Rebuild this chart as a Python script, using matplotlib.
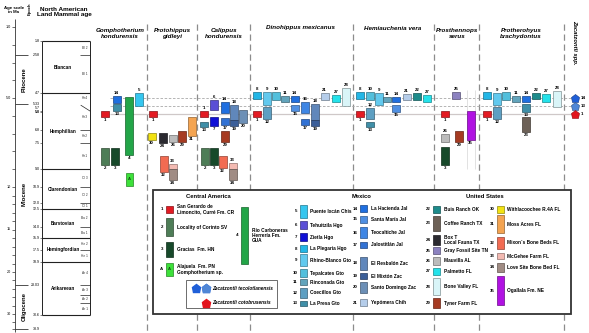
import numpy as np
import matplotlib
matplotlib.use('Agg')
import matplotlib.pyplot as plt
from matplotlib.patches import Rectangle
from matplotlib.colors import to_rgb

plt.rcParams['font.family'] = ['Liberation Sans', 'DejaVu Sans']
plt.rcParams['font.weight'] = 'bold'

# ---------------- scale calibration of the figure (Ma -> vertical position) ----------------
age_knots = [-1.0, 10.0, 20.0, 30.0, 33.9, 40.0]
age_pos = [-8.6, 187.0, 272.0, 314.0, 329.0, 352.0]
nalma_knots = [-1.0, 9.0, 10.9, 12.0, 12.5, 14.0, 15.9, 17.5, 18.9, 23.03, 30.6, 33.9, 40.0]
nalma_pos = [-8.6, 169.4, 187, 203, 209, 227, 238, 250, 262, 285, 315, 329, 352]

# ---------------- time scale data ----------------
epochs = ['Pliocene', 'Miocene', 'Oligocene']
epoch_start = [2.58, 5.33, 23.03]
epoch_end = [5.33, 23.03, 33.9]
epoch_labels = ['2.58', '5.33', '23.03', '33.9']

age_ticks = list(range(1, 21)) + list(range(22, 35, 2))
age_tick_labels = {1: '1.0', 5: '5.0', 10: '10', 15: '15', 20: '20', 30: '30'}

nalma = ['Blancan', 'Hemphillian', 'Clarendonian', 'Barstovian', 'Hemingfordian', 'Arikareean']
nalma_bounds = [1.8, 4.7, 9.0, 12.5, 15.9, 18.9, 30.6]
sub_names = ['Bl 2', 'Bl 1', 'Hh4', 'Hh3', 'Hh2', 'Hh1', 'Cl 3', 'Cl 2', 'Cl 1', 'Ba 2', 'Ba 1',
             'He 2', 'He 1', 'Ar 4', 'Ar 3', 'Ar 2', 'Ar 1']
sub_bounds = [1.8, 2.58, 4.7, 5.33, 6.8, 7.5, 9.0, 10.9, 12.0, 12.5, 14.0, 15.9, 17.5, 18.9,
              23.03, 25.5, 27.6, 30.6]
nalma_tick_labels = ['1.8', '4.7', '5.7', '5.8', '6.8', '7.5', '9.0', '10.9', '12.0', '12.5',
                     '14.0', '15.9', '17.5', '18.9', '30.6']

# ---------------- localities ----------------
loc_color = {
    '1': '#e31b23', '2': '#4e7d57', '3': '#17492a', '4': '#23a548', 'A': '#3de03a',
    '5': '#35c6ef', '6': '#5b4fd6', '7': '#1010d6', '8': '#22b6e6', '9': '#62c9ee',
    '10': '#52bfdc', '11': '#62a4bc', '12': '#5e9fc2', '13': '#3f8fa8', '14': '#1f6fe0',
    '15': '#4f8fe2', '16': '#3f86e4', '17': '#3272d4', '18': '#6087bb', '19': '#3c5f99',
    '20': '#6c8fb6', '21': '#b5cdea', '22': '#1d8b8b', '23': '#6d6157', '24': '#2b2a30',
    '25': '#8c82c0', '26': '#bcbcbc', '27': '#24e2ea', '28': '#d9f5f8', '29': '#a63b22',
    '30': '#f2e212', '31': '#f4a451', '32': '#f26b52', '33': '#f3bab2', '34': '#a08c84',
    '35': '#b012e2'}

# ---------------- taxa: locality, top age, base age (Ma) ----------------
taxa = ['Gomphotherium\nhondurensis', 'Protohippus\ngidleyi', 'Calippus\nhondurensis',
        'Dinohippus mexicanus', 'Hemiauchenia vera', 'Prosthennops\nserus',
        'Protherohyus\nbrachydontus']

gomph_loc = ['1', '2', '3', '14', '13', '4', '5', 'A']
gomph_top = [5.72, 7.80, 7.80, 4.88, 5.33, 4.93, 4.71, 9.20]
gomph_base = [6.06, 8.75, 8.75, 5.27, 5.72, 8.19, 5.44, 9.93]

proto_loc = ['1', '30', '24', '26', '29', '31', '32', '33', '34']
proto_top = [5.72, 6.96, 6.96, 7.07, 6.84, 6.06, 8.25, 8.70, 8.98]
proto_base = [6.06, 7.35, 7.52, 7.46, 7.46, 7.12, 9.15, 8.98, 9.60]

calip_loc = ['1', '13', '6', '7', '14', '17', '29', '18', '19', '20', '2', '3', '32', '33', '34']
calip_top = [5.72, 6.34, 5.10, 6.06, 5.21, 6.11, 6.84, 5.38, 6.22, 5.66, 7.80, 7.80, 8.25, 8.64, 8.98]
calip_base = [6.06, 6.62, 5.66, 6.56, 5.83, 6.51, 7.46, 6.22, 6.56, 6.39, 8.75, 8.75, 8.92, 8.98, 9.60]

dino_loc = ['8', '1', '9', '12', '10', '11', '14', '15', '16', '17', '18', '19', '21', '27', '28']
dino_top = [4.65, 5.72, 4.65, 5.49, 4.65, 4.88, 4.88, 5.38, 5.21, 6.17, 5.33, 6.22, 4.71, 4.82, 4.43]
dino_base = [5.04, 6.06, 5.38, 6.17, 5.10, 5.21, 5.21, 5.72, 5.83, 6.51, 6.22, 6.56, 5.10, 5.21, 5.44]

hemi_loc = ['8', '1', '10', '12', '13', '9', '11', '14', '15', '21', '22', '27']
hemi_top = [4.65, 5.72, 4.65, 5.54, 6.34, 4.71, 4.93, 4.93, 5.38, 4.76, 4.71, 4.82]
hemi_base = [5.04, 6.06, 5.10, 6.17, 6.62, 5.38, 5.21, 5.21, 5.78, 5.10, 5.10, 5.21]

pros_loc = ['25', '1', '26', '29', '3', '35']
pros_top = [4.65, 5.72, 7.01, 6.84, 7.74, 5.72]
pros_base = [5.04, 6.06, 7.46, 7.46, 8.75, 7.35]

proth_loc = ['8', '1', '9', '12', '10', '11', '14', '13', '23', '22', '27', '28']
proth_top = [4.65, 5.72, 4.71, 5.49, 4.65, 4.88, 4.88, 5.33, 6.06, 4.71, 4.76, 4.60]
proth_base = [5.04, 6.06, 5.38, 6.17, 5.10, 5.21, 5.21, 5.78, 6.90, 5.04, 5.21, 5.49]

zac_loc = ['14', '13', '1']
zac_age = [5.02, 5.47, 5.89]
zac_color = ['#1f5fd8', '#4f86d6', '#e3141d']

# ---------------- layout (x positions, label side) ----------------
gomph_x = [101, 101, 111, 113, 113, 125, 135, 126]
gomph_lab = ['b', 'b', 'b', 'a', 'b', 'b', 'a', 'i']
proto_x = [149, 148, 159, 169, 178, 188, 160, 169, 169]
proto_lab = ['b', 'b', 'b', 'b', 'b', 'b', 'b', 'a', 'b']
calip_x = [200, 200, 210, 210, 221, 221, 221, 230, 230, 239, 201, 210, 219, 229, 229]
calip_lab = ['a', 'b', 'a', 'b', 'a', 'b', 'b', 'a', 'b', 'b', 'b', 'b', 'b', 'a', 'b']
dino_x = [253, 253, 263, 263, 272, 281, 291, 291, 301, 301, 311, 311, 321, 332, 342]
dino_lab = ['a', 'b', 'a', 'b', 'a', 'a', 'a', 'b', 'a', 'b', 'a', 'b', 'a', 'a', 'a']
hemi_x = [356, 356, 366, 366, 366, 375, 383, 392, 392, 403, 413, 423]
hemi_lab = ['a', 'b', 'a', 'a', 'b', 'a', 'a', 'a', 'b', 'a', 'a', 'a']
pros_x = [452, 441, 441, 455, 441, 467]
pros_lab = ['a', 'b', 'a', 'b', 'b', 'b']
proth_x = [483, 483, 493, 493, 502, 512, 522, 522, 522, 532, 542, 553]
proth_lab = ['a', 'b', 'a', 'b', 'a', 'a', 'a', 'b', 'b', 'a', 'a', 'a']

col_sep = [147, 197, 250, 353, 434, 479, 564]
title_x = [120, 172, 224, 301, 393, 457, 521]
BOX_W = 7.5


def edge(c):
    r, g, b = to_rgb(c)
    return (r * 0.6, g * 0.6, b * 0.6)


fig = plt.figure(figsize=(5.89, 3.33), dpi=100)
lay = fig.add_axes([0, 0, 1, 1])
lay.set_xlim(0, 589)
lay.set_ylim(333, 0)
lay.axis('off')


def age_axes(knots, pos):
    k = np.array(knots, dtype=float)
    p = np.array(pos, dtype=float)
    ax = fig.add_axes([0, 0, 1, 1])
    ax.set_yscale('function', functions=(lambda m: np.interp(m, k, p), lambda v: np.interp(v, p, k)))
    ax.set_xlim(0, 589)
    ax.set_ylim(np.interp(333, p, k), np.interp(0, p, k))
    ax.axis('off')
    return ax, (lambda m: np.interp(m, k, p)), (lambda v: np.interp(v, p, k))


axn, nf, ni = age_axes(nalma_knots, nalma_pos)
axa, af, ai = age_axes(age_knots, age_pos)

# ---------------- headers ----------------
lay.text(14, 10, 'Age scale\nin Ma', ha='center', va='center', fontsize=3.2, linespacing=1.1)
lay.text(30, 9, 'Epoch', ha='center', va='center', rotation=90, fontsize=3.0)
lay.text(64, 12, 'North American\nLand Mammal age', ha='center', va='center', fontsize=4.6,
         linespacing=1.15)

# ---------------- age scale ----------------
axa.vlines(14.5, 0.55, 34.6, color='#333333', lw=0.6)
axa.hlines(age_ticks, 12, 14.5, color='#333333', lw=0.5)
for t, s in age_tick_labels.items():
    axa.text(11, t, s, ha='right', va='center', fontsize=2.7, weight='normal')
axa.hlines([2.58, 5.33, 23.03, 33.9], 14.5, 28, color='#333333', lw=0.6)
for s in epoch_labels:
    axa.text(39.5, float(s), s, ha='right', va='center', fontsize=2.6, weight='normal')
for name, a, b in zip(epochs, epoch_start, epoch_end):
    axa.text(24, ai((af(a) + af(b)) / 2), name, ha='center', va='center', rotation=90, fontsize=4.3)

# ---------------- NALMA column ----------------
axn.vlines([42, 90], 1.8, 30.6, color='#222222', lw=0.7)
axn.hlines(nalma_bounds, 42, 90, color='#222222', lw=0.8)
part = [b for b in sub_bounds if b not in nalma_bounds and b != 5.33]
axn.hlines(part, 80, 90, color='#222222', lw=0.5)
axn.plot([81, 90], [5.40, 5.72], color='#222222', lw=0.5)
for s in nalma_tick_labels:
    v = float(s)
    dy = 3 if s == '5.7' else 0
    axn.annotate(s, xy=(39.5, v), xytext=(0, dy * 0.72), textcoords='offset points',
                 ha='right', va='center', fontsize=2.6, weight='bold' if s == '5.8' else 'normal')
    axn.hlines(v, 39.5, 42, color='#222222', lw=0.4)
for name, a, b in zip(nalma, nalma_bounds[:-1], nalma_bounds[1:]):
    axn.text(63, ni((nf(a) + nf(b)) / 2), name, ha='center', va='center', fontsize=3.3)
for name, a, b in zip(sub_names, sub_bounds[:-1], sub_bounds[1:]):
    axn.text(84.5, ni((nf(a) + nf(b)) / 2), name, ha='center', va='center', fontsize=2.3,
             weight='normal', color='#333333')

# ---------------- taxon columns ----------------
lay.vlines(col_sep, 24, 333, colors='#8c8c8c', linestyles=(0, (5, 3)), lw=0.9, zorder=1)
for t, x in zip(taxa, title_x):
    lay.text(x, 33.5 if '\n' in t else 28, t, ha='center', va='center', fontsize=4.5,
             style='italic', linespacing=1.3)
lay.text(575, 42, 'Zacatzontli spp.', ha='center', va='center', rotation=-90, fontsize=4.2,
         style='italic')

axa.hlines(zac_age[:2], 110, 572, colors='#a8a8a8', linestyles=(0, (3, 2)), lw=0.6, zorder=1)
axa.hlines(zac_age[2], 110, 572, colors='#cfc8c8', lw=0.9, zorder=1)
axa.vlines([467, 475], 4.55, 9.0, colors='#dddddd', lw=0.6, zorder=1)

columns = [(gomph_loc, gomph_top, gomph_base, gomph_x, gomph_lab),
           (proto_loc, proto_top, proto_base, proto_x, proto_lab),
           (calip_loc, calip_top, calip_base, calip_x, calip_lab),
           (dino_loc, dino_top, dino_base, dino_x, dino_lab),
           (hemi_loc, hemi_top, hemi_base, hemi_x, hemi_lab),
           (pros_loc, pros_top, pros_base, pros_x, pros_lab),
           (proth_loc, proth_top, proth_base, proth_x, proth_lab)]

for locs, tops, bases, xs, labs in columns:
    for loc, t, b, x, lab in zip(locs, tops, bases, xs, labs):
        w = 6.5 if loc == 'A' else BOX_W
        c = loc_color[loc]
        axa.bar(x + w / 2, b - t, width=w, bottom=t, color=c, edgecolor=edge(c), lw=0.5, zorder=3)
        if lab == 'a':
            axa.annotate(loc, xy=(x + w / 2, t), xytext=(0, 0.7), textcoords='offset points',
                         ha='center', va='bottom', fontsize=3.2, zorder=4)
        elif lab == 'b':
            axa.annotate(loc, xy=(x + w / 2, b), xytext=(0, -0.9), textcoords='offset points',
                         ha='center', va='top', fontsize=3.2, zorder=4)
        else:
            axa.text(x + w / 2, (t + b) / 2, loc, ha='center', va='center', fontsize=3.0,
                     color='#114411', zorder=4)

for loc, a, c in zip(zac_loc, zac_age, zac_color):
    axa.plot(575, a, marker='p', ms=6.3, color=c, mec=edge(c), mew=0.4, zorder=4)
    axa.text(581, a, loc, ha='left', va='center', fontsize=3.2)

# ---------------- legend ----------------
lay.add_patch(Rectangle((153, 190), 418, 124, facecolor='white', edgecolor='#333333', lw=1.3, zorder=5))
lay.text(208, 197, 'Central America', ha='center', va='center', fontsize=4.2, zorder=6)
lay.text(362, 197, 'Mexico', ha='center', va='center', fontsize=4.2, zorder=6)
lay.text(485, 197, 'United States', ha='center', va='center', fontsize=4.2, zorder=6)

legend_groups = [
    (['1', '2', '3', 'A'],
     ['San Gerardo de\nLimoncito, Curré Fm. CR', 'Locality of Corinto SV', 'Gracias  Fm. HN',
      'Alajuela  Fm. PN\nGomphotherium sp.'],
     [206, 218, 242, 263], [213, 236, 257, 276], 165.5, 177),
    (['4'], ['Río Carboneras\nHerrería Fm.\nGUA'], [207], [264], 240.5, 252),
    (['5', '6', '7', '8', '9', '10', '11', '12', '13'],
     ['Puente Ixcán Chis', 'Tehuitzila Hgo', 'Zietla Hgo', 'La Plegaria Hgo', 'Rhino-Blanco Gto',
      'Tepalcates Gto', 'Rinconada Gto', 'Coecillos Gto', 'La Presa Gto'],
     [205, 221, 233, 245, 254, 269, 279, 288, 301], [218, 229, 241, 252, 266, 277, 285, 298, 306],
     299.5, 310),
    (['14', '15', '16', '17', '18', '19', '20', '21'],
     ['La Hacienda Jal', 'Santa María Jal', 'Teocaltiche Jal', 'Jalostitlán Jal', 'El Resbalón Zac',
      'El Mixtón Zac', 'Santo Domingo Zac', 'Yepómera Chih'],
     [205, 216, 227, 242, 257, 273, 282, 299], [212, 223, 238, 248, 270, 279, 293, 306],
     359.5, 371),
    (['22', '23', '24', '25', '26', '27', '28', '29'],
     ['Buis Ranch OK', 'Coffee Ranch TX', 'Box T\nLocal Fauna TX', 'Gray Fossil Site TN',
      'Mauvilla AL', 'Palmetto FL', 'Bone Valley FL', 'Tyner Farm FL'],
     [206, 216, 235, 247, 257, 268, 278, 298], [213, 231, 245, 254, 265, 275, 295, 308],
     432.5, 444),
    (['30', '31', '32', '33', '34', '35'],
     ['Withlacoochee R.4A FL', 'Moss Acres FL', 'Mixon´s Bone Beds FL', 'McGehee Farm FL',
      'Love Site Bone Bed FL', 'Ogallala Fm. NE'],
     [206, 215, 237, 253, 263, 276], [213, 233, 249, 259, 272, 305], 496.5, 507),
]
for ids, names, tops, bots, bx, tx in legend_groups:
    for i, n, t, b in zip(ids, names, tops, bots):
        c = loc_color[i]
        lay.add_patch(Rectangle((bx, t), 7.5, b - t, facecolor=c, edgecolor=edge(c), lw=0.5, zorder=6))
        lay.text(bx - 2, (t + b) / 2, i, ha='right', va='center', fontsize=3.2, zorder=6)
        lay.text(tx, (t + b) / 2, n, ha='left', va='center', fontsize=3.4, linespacing=1.05, zorder=6)
        if i == 'A':
            lay.text(bx + 3.75, (t + b) / 2, 'A', ha='center', va='center', fontsize=3.0,
                     color='#114411', zorder=7)

lay.add_patch(Rectangle((186, 280), 91, 28, facecolor='white', edgecolor='#555555', lw=0.6, zorder=6))
lay.plot([196, 206], [288, 288], ls='none', marker='p', ms=6.3, color=zac_color[0], zorder=7)
lay.plot([206], [288], ls='none', marker='p', ms=6.3, color=zac_color[1], zorder=7)
lay.plot([206], [303], ls='none', marker='p', ms=6.3, color=zac_color[2], zorder=7)
lay.text(212, 288, 'Zacatzontli tecolotlanensis', ha='left', va='center', fontsize=3.4,
         style='italic', zorder=7)
lay.text(212, 303, 'Zacatzontli cotobrusensis', ha='left', va='center', fontsize=3.4,
         style='italic', zorder=7)

fig.savefig('out.png', dpi=100)
